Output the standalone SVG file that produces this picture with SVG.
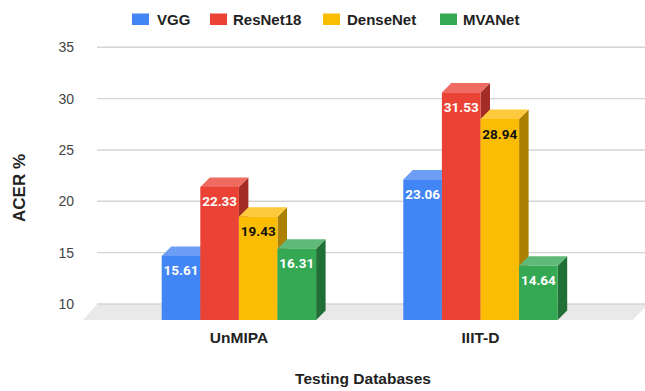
<svg xmlns="http://www.w3.org/2000/svg" width="645" height="391" viewBox="0 0 645 391">
<style>
.tick{font-family:"Liberation Sans",Arial,sans-serif;font-size:14px;fill:#444;text-anchor:end}
.leg{font-family:"Liberation Sans",Arial,sans-serif;font-size:15px;font-weight:bold;fill:#222}
.cat{font-family:"Liberation Sans",Arial,sans-serif;font-size:15.5px;font-weight:bold;fill:#222;text-anchor:middle}
.ttl{font-family:"Liberation Sans",Arial,sans-serif;font-size:15.5px;font-weight:bold;fill:#222;text-anchor:middle}
.val{font-family:Roboto,"Liberation Sans",sans-serif;font-size:13.5px;font-weight:bold;text-anchor:middle;fill:#fff}
.valk{fill:#111}
.grid{stroke:#d4d4d4;stroke-width:1.4}
.bF{fill:#4285F4}.bT{fill:#6c9ef6}.bS{fill:#2f62b8}
.rF{fill:#EA4335}.rT{fill:#ef6a60}.rS{fill:#a32d26}
.yF{fill:#FBBC04}.yT{fill:#fcca3c}.yS{fill:#ab8003}
.gF{fill:#34A853}.gT{fill:#5fba78}.gS{fill:#226e37}
</style>
<rect width="645" height="391" fill="#fff"/>
<g id="legend">
<rect x="132" y="13.5" width="17" height="11.5" class="bF"/><text x="157" y="24.8" class="leg">VGG</text>
<rect x="210" y="13.5" width="17" height="11.5" class="rF"/><text x="233" y="24.8" class="leg">ResNet18</text>
<rect x="323" y="13.5" width="17" height="11.5" class="yF"/><text x="347" y="24.8" class="leg">DenseNet</text>
<rect x="440" y="13.5" width="17" height="11.5" class="gF"/><text x="463" y="24.8" class="leg">MVANet</text>
</g>
<g id="axis">
<polygon points="83,320 97,304 648,304 633,320" fill="#e9e9e9"/>
<line x1="97" y1="47.3" x2="645" y2="47.3" class="grid"/>
<line x1="97" y1="98.6" x2="645" y2="98.6" class="grid"/>
<line x1="97" y1="150" x2="645" y2="150" class="grid"/>
<line x1="97" y1="201.3" x2="645" y2="201.3" class="grid"/>
<line x1="97" y1="252.6" x2="645" y2="252.6" class="grid"/>
<line x1="97" y1="304" x2="645" y2="304" class="grid"/>
<text x="74" y="52.3" class="tick">35</text>
<text x="74" y="103.6" class="tick">30</text>
<text x="74" y="155" class="tick">25</text>
<text x="74" y="206.3" class="tick">20</text>
<text x="74" y="257.6" class="tick">15</text>
<text x="74" y="309" class="tick">10</text>
<text transform="translate(24.5,188) rotate(-90)" class="ttl" style="font-size:17px">ACER %</text>
<text x="239" y="343" class="cat">UnMIPA</text>
<text x="480.5" y="343" class="cat">IIIT-D</text>
<text x="363" y="384" class="ttl">Testing Databases</text>
</g>
<g id="unmipa">
<g id="unmipa-vgg">
<polygon class="bS" points="200.3,255.9 209.8,246.4 209.8,310.5 200.3,320"/>
<polygon class="bT" points="161.7,255.9 171.2,246.4 209.8,246.4 200.3,255.9"/>
<rect class="bF" x="161.7" y="255.9" width="38.6" height="64.1"/>
<text class="val" x="181" y="275.4">15.61</text>
</g>
<g id="unmipa-resnet18">
<polygon class="rS" points="238.9,186.9 248.4,177.4 248.4,310.5 238.9,320"/>
<polygon class="rT" points="200.3,186.9 209.8,177.4 248.4,177.4 238.9,186.9"/>
<rect class="rF" x="200.3" y="186.9" width="38.6" height="133.1"/>
<text class="val" x="219.6" y="206.4">22.33</text>
</g>
<g id="unmipa-densenet">
<polygon class="yS" points="277.5,216.65 287,207.15 287,310.5 277.5,320"/>
<polygon class="yT" points="238.9,216.65 248.4,207.15 287,207.15 277.5,216.65"/>
<rect class="yF" x="238.9" y="216.65" width="38.6" height="103.35"/>
<text class="val valk" x="258.2" y="236.2">19.43</text>
</g>
<g id="unmipa-mvanet">
<polygon class="gS" points="316.1,248.7 325.6,239.2 325.6,310.5 316.1,320"/>
<polygon class="gT" points="277.5,248.7 287,239.2 325.6,239.2 316.1,248.7"/>
<rect class="gF" x="277.5" y="248.7" width="38.6" height="71.3"/>
<text class="val" x="296.8" y="268.2">16.31</text>
</g>
</g>
<g id="iiitd">
<g id="iiitd-vgg">
<polygon class="bS" points="441.9,179.4 451.4,169.9 451.4,310.5 441.9,320"/>
<polygon class="bT" points="403.3,179.4 412.8,169.9 451.4,169.9 441.9,179.4"/>
<rect class="bF" x="403.3" y="179.4" width="38.6" height="140.6"/>
<text class="val" x="422.6" y="198.9">23.06</text>
</g>
<g id="iiitd-resnet18">
<polygon class="rS" points="480.5,92.4 490,82.9 490,310.5 480.5,320"/>
<polygon class="rT" points="441.9,92.4 451.4,82.9 490,82.9 480.5,92.4"/>
<rect class="rF" x="441.9" y="92.4" width="38.6" height="227.6"/>
<text class="val" x="461.2" y="111.9">31.53</text>
</g>
<g id="iiitd-densenet">
<polygon class="yS" points="519.1,119 528.6,109.5 528.6,310.5 519.1,320"/>
<polygon class="yT" points="480.5,119 490,109.5 528.6,109.5 519.1,119"/>
<rect class="yF" x="480.5" y="119" width="38.6" height="201"/>
<text class="val valk" x="499.8" y="138.5">28.94</text>
</g>
<g id="iiitd-mvanet">
<polygon class="gS" points="557.7,265.85 567.2,256.35 567.2,310.5 557.7,320"/>
<polygon class="gT" points="519.1,265.85 528.6,256.35 567.2,256.35 557.7,265.85"/>
<rect class="gF" x="519.1" y="265.85" width="38.6" height="54.15"/>
<text class="val" x="538.4" y="285.4">14.64</text>
</g>
</g>
</svg>
